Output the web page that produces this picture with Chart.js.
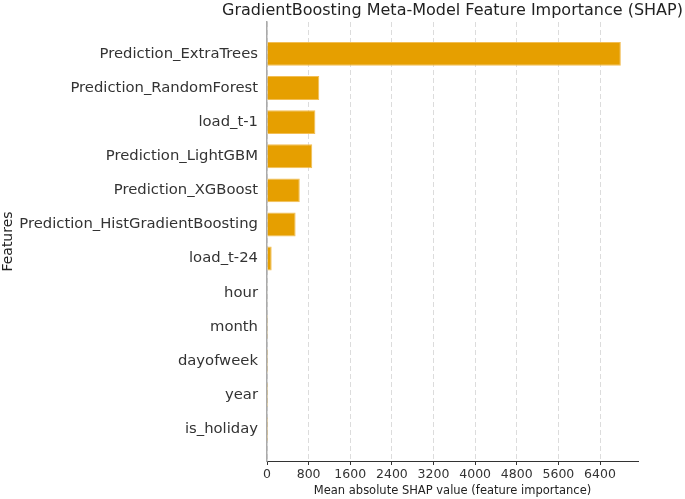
<!DOCTYPE html>
<html>
<head>
<meta charset="utf-8">
<script src="https://cdn.jsdelivr.net/npm/chart.js@4.4.1/dist/chart.umd.min.js"></script>
<style>
  html, body { margin: 0; padding: 0; background: #fff; }
  #wrap { width: 685px; height: 499px; position: relative; }
</style>
</head>
<body>
<div id="wrap"><canvas id="shapChart"></canvas></div>
<script>
// Feature importance data
const features = [
  "Prediction_ExtraTrees",
  "Prediction_RandomForest",
  "load_t-1",
  "Prediction_LightGBM",
  "Prediction_XGBoost",
  "Prediction_HistGradientBoosting",
  "load_t-24",
  "hour",
  "month",
  "dayofweek",
  "year",
  "is_holiday"
];
const shapValues = [6800, 1005, 930, 870, 630, 550, 90, 8, 2, 1, 0.5, 0.2];
const xTicks = [0, 800, 1600, 2400, 3200, 4000, 4800, 5600, 6400];
const chartTitle = "GradientBoosting Meta-Model Feature Importance (SHAP)";

const FONT = "'DejaVu Sans', sans-serif";

// title centred over the plot area (like matplotlib), not over the canvas
const axesTitle = {
  id: "axesTitle",
  afterDraw(chart) {
    const c = chart.ctx;
    const area = chart.chartArea;
    c.save();
    c.font = "16px " + FONT;
    c.fillStyle = "#222";
    c.textAlign = "center";
    c.textBaseline = "middle";
    c.fillText(chartTitle, (area.left + area.right) / 2, 11);
    c.restore();
  }
};

// Horizontal bars
const ctx = document.getElementById("shapChart");
new Chart(ctx, {
  type: "bar",
  data: {
    datasets: [{
      data: features.map((f, i) => ({ x: shapValues[i], y: i })),
      backgroundColor: "#E69F00",
      borderColor: "#F2BE55",
      borderWidth: 1,
      barPercentage: 0.7,
      categoryPercentage: 1.0
    }]
  },
  options: {
    indexAxis: "y",
    responsive: true,
    maintainAspectRatio: false,
    animation: false,
    layout: { padding: { left: 0, right: 47, top: 22, bottom: 1 } },
    plugins: {
      legend: { display: false },
      tooltip: { enabled: false },
      title: { display: false }
    },
    scales: {
      x: {
        type: "linear",
        min: 0,
        max: 7130,
        afterBuildTicks: (scale) => { scale.ticks = xTicks.map(v => ({ value: v })); },
        afterFit: (scale) => { scale.height = 37; },
        ticks: {
          color: "#333",
          font: { family: FONT, size: 12.5 },
          padding: 2,
          maxRotation: 0,
          callback: (v) => String(v)
        },
        grid: {
          color: "#dcdcdc",
          lineWidth: 1,
          drawTicks: true,
          tickLength: 4,
          tickColor: "#333",
          tickWidth: 1
        },
        border: { display: true, color: "#333", width: 1, dash: [5, 3] },
        title: {
          display: true,
          text: "Mean absolute SHAP value (feature importance)",
          color: "#222",
          font: { family: FONT, size: 11.5 },
          padding: { top: 1, bottom: 0 }
        }
      },
      y: {
        type: "linear",
        reverse: true,
        offset: false,
        min: -0.935,
        max: 11.935,
        afterBuildTicks: (scale) => { scale.ticks = features.map((f, i) => ({ value: i })); },
        afterFit: (scale) => { scale.width = 267; },
        ticks: {
          color: "#333",
          font: { family: FONT, size: 14.8 },
          padding: 9,
          autoSkip: false,
          callback: (v) => features[v]
        },
        grid: { display: false, drawTicks: false },
        border: { display: true, color: "#aaa", width: 1.5 },
        title: {
          display: true,
          text: "Features",
          color: "#222",
          font: { family: FONT, size: 14 },
          padding: { top: 0, bottom: 0 }
        }
      }
    }
  },
  plugins: [axesTitle]
});
</script>
</body>
</html>
